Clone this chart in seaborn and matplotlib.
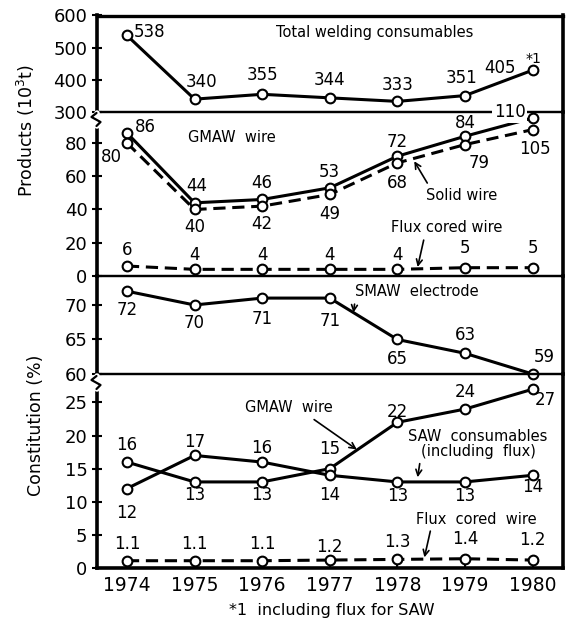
import matplotlib
matplotlib.use('Agg')
import matplotlib.pyplot as plt
from matplotlib.lines import Line2D
import seaborn as sns

years = [1974, 1975, 1976, 1977, 1978, 1979, 1980]

# production, 10^3 t (1980 points sit where the original drew them)
total = [538, 340, 355, 344, 333, 351, 430]
gmaw_wire = [86, 44, 46, 53, 72, 84, 95]
solid_wire = [80, 40, 42, 49, 68, 79, 88]
flux_wire = [6, 4, 4, 4, 4, 5, 5]

total_lbl = ['538', '340', '355', '344', '333', '351', '405']
gmaw_lbl = ['86', '44', '46', '53', '72', '84', '110']
solid_lbl = ['80', '40', '42', '49', '68', '79', '105']
flux_lbl = ['6', '4', '4', '4', '4', '5', '5']

# constitution, %
smaw_pct = [72, 70, 71, 71, 65, 63, 60]
smaw_lbl = ['72', '70', '71', '71', '65', '63', '59']
gmaw_pct = [16, 13, 13, 15, 22, 24, 27]
saw_pct = [12, 17, 16, 14, 13, 13, 14]
flux_pct = [1.1, 1.1, 1.1, 1.2, 1.3, 1.4, 1.2]

sns.set_theme(style='white')
plt.rcParams['font.family'] = ['DejaVu Sans']
plt.rcParams['mathtext.default'] = 'regular'
plt.rcParams['text.color'] = 'black'
plt.rcParams['axes.labelcolor'] = 'black'

W, H = 569, 628
fig = plt.figure(figsize=(W / 100, H / 100), dpi=100)


def fx(x):
    return x / W


def fy(y):
    return 1 - y / H


left, right = 96.5, 563
bounds = [15.5, 112, 276, 374, 568]
ylims = [(300, 600), (0, 98.6), (60, 74.2), (0, 29.3)]
yticks = [[300, 400, 500, 600], [0, 20, 40, 60, 80], [60, 65, 70], [0, 5, 10, 15, 20, 25]]

axes = []
for i in range(4):
    ax = fig.add_axes([fx(left), fy(bounds[i + 1]), (right - left) / W,
                       (bounds[i + 1] - bounds[i]) / H])
    ax.patch.set_visible(False)
    ax.set_xlim(1973.55, 1980.45)
    ax.set_ylim(*ylims[i])
    ax.set_yticks(yticks[i])
    ax.tick_params(axis='y', direction='inout', length=7, width=1.5, labelsize=13,
                   pad=3, colors='black', left=True)
    for s in ax.spines.values():
        s.set_color('black')
        s.set_linewidth(1.6)
    ax.spines['left'].set_linewidth(2.6)
    ax.spines['right'].set_linewidth(2.6)
    if i < 3:
        ax.set_xticks([])
    axes.append(ax)

ax1, ax2, ax3, ax4 = axes
ax1.spines['top'].set_linewidth(2.4)
ax4.spines['bottom'].set_linewidth(2.6)
ax4.set_xticks(years)
ax4.set_xticklabels([str(y) for y in years])
ax4.tick_params(axis='x', direction='in', length=5, width=1.5, labelsize=13.5, pad=6,
                colors='black', bottom=True)


def draw(ax, vals, dashed=False):
    sns.lineplot(x=years, y=vals, ax=ax, color='black', linewidth=2.2,
                 marker='o', markersize=7, markerfacecolor='white',
                 markeredgecolor='black', markeredgewidth=1.5, clip_on=False)
    line = ax.lines[-1]
    if dashed:
        line.set_dashes((4, 2.2))


def label(ax, vals, texts, offs, size=12, **kw):
    for x, v, t, (dx, dy) in zip(years, vals, texts, offs):
        ax.annotate(t, (x, v), xytext=(dx, dy), textcoords='offset pixels',
                    ha='center', va='center', fontsize=size, annotation_clip=False, **kw)


draw(ax1, total)
draw(ax2, gmaw_wire)
draw(ax2, solid_wire, dashed=True)
draw(ax2, flux_wire, dashed=True)
draw(ax3, smaw_pct)
draw(ax4, gmaw_pct)
draw(ax4, saw_pct)
draw(ax4, flux_pct, dashed=True)

label(ax1, total, total_lbl, [(23, 3), (7, 17), (0, 19), (0, 18), (0, 16), (-3, 18), (-33, 2)])
ax1.annotate('*1', (years[-1], total[-1]), xytext=(1, 11), textcoords='offset pixels',
             ha='center', va='center', fontsize=10)
label(ax2, gmaw_wire, gmaw_lbl[:-1] + [''], [(18, 6), (2, 17), (0, 16), (0, 16), (0, 14), (0, 13), (0, 0)])
ax2.annotate(gmaw_lbl[-1], (years[-1], gmaw_wire[-1]), xytext=(-23, 6), textcoords='offset pixels',
             ha='center', va='center', fontsize=12, annotation_clip=False,
             bbox=dict(boxstyle='square,pad=0.1', fc='white', ec='none'))
label(ax2, solid_wire, solid_lbl, [(-16, -14), (0, -18), (0, -18), (0, -20), (0, -20), (14, -18), (2, -19)])
label(ax2, flux_wire, flux_lbl, [(0, 16), (0, 14), (0, 14), (0, 14), (0, 14), (0, 20), (0, 20)])
label(ax3, smaw_pct, smaw_lbl, [(0, -19), (0, -18), (0, -21), (0, -23), (0, -20), (0, 18), (12, 17)])
label(ax4, gmaw_pct, [str(v) for v in gmaw_pct],
      [(0, 17), (0, -13), (0, -13), (0, 20), (0, 10), (0, 17), (13, -11)])
label(ax4, saw_pct, [str(v) for v in saw_pct],
      [(0, -24), (0, 13), (0, 14), (0, -20), (0, -14), (0, -14), (0, -12)])
label(ax4, flux_pct, [str(v) for v in flux_pct],
      [(0, 17), (0, 17), (0, 17), (0, 13), (0, 17), (0, 20), (0, 20)])

# series names and pointers
fs = 10.5
arrow = dict(arrowstyle='->', lw=1.2, color='black', shrinkA=1, shrinkB=0)
fig.text(fx(375), fy(33), 'Total welding consumables', ha='center', va='center', fontsize=fs)
fig.text(fx(232), fy(137), 'GMAW  wire', ha='center', va='center', fontsize=fs)
ax2.annotate('Solid wire', (1978.25, 69), xytext=(fx(462), fy(195)), textcoords='figure fraction',
             ha='center', va='center', fontsize=fs, arrowprops=dict(arrow, relpos=(0.05, 1)))
ax2.annotate('Flux cored wire', (1978.3, 5.4), xytext=(fx(447), fy(228)), textcoords='figure fraction',
             ha='center', va='center', fontsize=fs, arrowprops=dict(arrow, relpos=(0.3, 0)))
ax3.annotate('SMAW  electrode', (1977.35, 68.9), xytext=(fx(417), fy(292)), textcoords='figure fraction',
             ha='center', va='center', fontsize=fs, arrowprops=dict(arrow, relpos=(0.0, 0)))
ax4.annotate('GMAW  wire', (1977.4, 17.9), xytext=(fx(289), fy(408)), textcoords='figure fraction',
             ha='center', va='center', fontsize=fs, arrowprops=dict(arrow, relpos=(0.72, 0)))
ax4.annotate('SAW  consumables\n(including  flux)', (1978.3, 13.7), xytext=(fx(478), fy(444)),
             textcoords='figure fraction', ha='center', va='center', fontsize=fs, linespacing=1.0,
             arrowprops=dict(arrow, relpos=(0.1, 0.4)))
ax4.annotate('Flux  cored  wire', (1978.4, 1.6), xytext=(fx(476), fy(519)), textcoords='figure fraction',
             ha='center', va='center', fontsize=fs, arrowprops=dict(arrow, relpos=(0.13, 0)))

fig.text(fx(26), fy(131), 'Products (10$^3$t)', rotation=90, ha='center', va='center', fontsize=12.5)
fig.text(fx(36), fy(425), 'Constitution (%)', rotation=90, ha='center', va='center', fontsize=12.5)
fig.text(fx(332), fy(611), '*1  including flux for SAW', ha='center', va='center', fontsize=11.5)

# axis break marks on the left spine
for y0 in (113, 376):
    fig.add_artist(Line2D([fx(left)] * 2, [fy(y0), fy(y0 + 13)], color='white', lw=4))
    fig.add_artist(Line2D([fx(left), fx(left - 5), fx(left + 4), fx(left)],
                          [fy(y0), fy(y0 + 4), fy(y0 + 9), fy(y0 + 13)], color='black', lw=1.6))

fig.savefig('out.png', dpi=100)
